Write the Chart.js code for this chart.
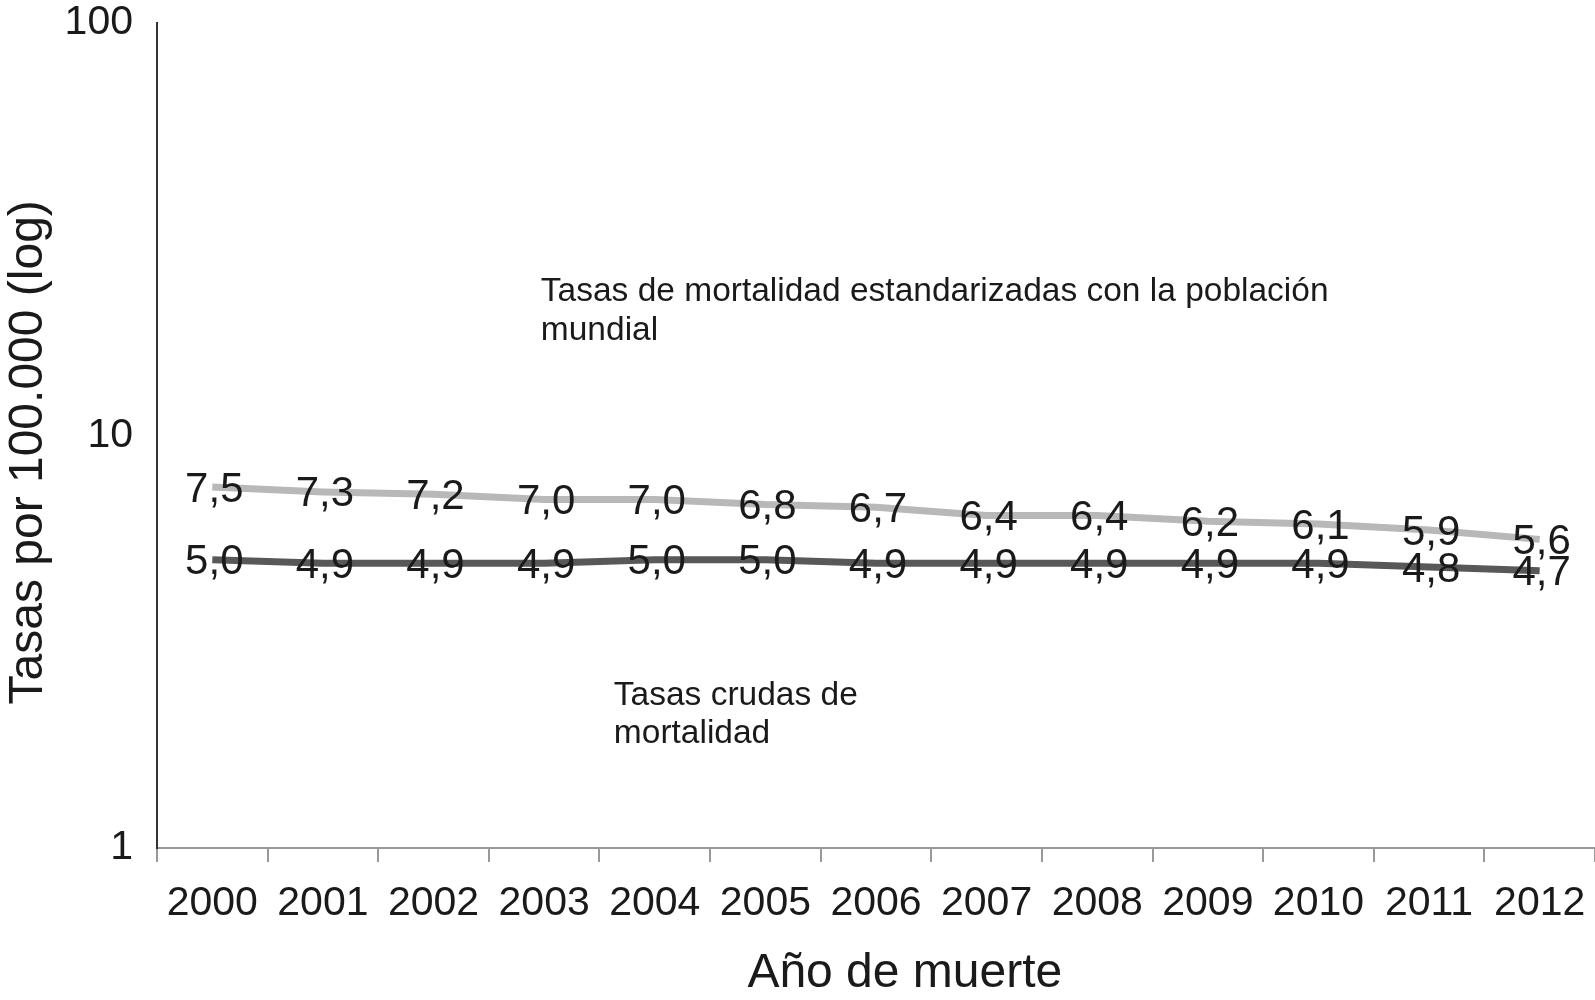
<!DOCTYPE html>
<html>
<head>
<meta charset="utf-8">
<script src="https://cdn.jsdelivr.net/npm/chart.js@4.4.1/dist/chart.umd.min.js"></script>
<style>
  html, body { margin: 0; padding: 0; background: #fff; }
  #wrap { width: 1595px; height: 1000px; }
</style>
</head>
<body>
<div id="wrap"><canvas id="chart" width="1595" height="1000"></canvas></div>
<script>
// data
const years = ['2000','2001','2002','2003','2004','2005','2006','2007','2008','2009','2010','2011','2012'];
const standardized = [7.5, 7.3, 7.2, 7.0, 7.0, 6.8, 6.7, 6.4, 6.4, 6.2, 6.1, 5.9, 5.6];
const crude = [5.0, 4.9, 4.9, 4.9, 5.0, 5.0, 4.9, 4.9, 4.9, 4.9, 4.9, 4.8, 4.7];
const yTicks = [1, 10, 100];

const FONT = '"Liberation Sans", Arial, sans-serif';

// annotation text, anchored in data units (category index, log value)
const notes = [
  { x: 2.97, y: 22.3, text: 'Tasas de mortalidad estandarizadas con la población' },
  { x: 2.97, y: 17.9, text: 'mundial' },
  { x: 3.63, y: 2.34, text: 'Tasas crudas de' },
  { x: 3.63, y: 1.89, text: 'mortalidad' }
];

// draws value labels centred on each point plus the series notes
const labelPlugin = {
  id: 'labels',
  afterDatasetsDraw(chart) {
    const ctx = chart.ctx;
    ctx.save();
    ctx.fillStyle = '#1a1a1a';
    ctx.font = '42px ' + FONT;
    ctx.textAlign = 'center';
    ctx.textBaseline = 'middle';
    chart.data.datasets.forEach((ds, i) => {
      chart.getDatasetMeta(i).data.forEach((pt, j) => {
        ctx.fillText(ds.data[j].toFixed(1).replace('.', ','), pt.x + 2, pt.y + 3);
      });
    });
    const xs = chart.scales.x, ys = chart.scales.y;
    ctx.font = '33.5px ' + FONT;
    ctx.textAlign = 'left';
    notes.forEach(n => {
      ctx.fillText(n.text, xs.getPixelForValue(n.x), ys.getPixelForValue(n.y));
    });
    ctx.restore();
  }
};

new Chart(document.getElementById('chart'), {
  type: 'line',
  data: {
    labels: years,
    datasets: [
      { label: 'Tasas estandarizadas', data: standardized, borderColor: '#b8b8b8', borderWidth: 7, pointRadius: 0, tension: 0 },
      { label: 'Tasas crudas', data: crude, borderColor: '#585858', borderWidth: 7, pointRadius: 0, tension: 0 }
    ]
  },
  options: {
    responsive: false,
    animation: false,
    layout: { autoPadding: false, padding: { top: 0, right: 0, left: 0, bottom: 0 } },
    plugins: { legend: { display: false }, tooltip: { enabled: false } },
    scales: {
      x: {
        offset: true,
        afterFit(scale) { scale.height = 152; scale.paddingRight = 0; },
        grid: { display: true, offset: true, drawOnChartArea: false, drawTicks: true, tickLength: 14, color: '#999', lineWidth: 2 },
        border: { display: true, color: '#999', width: 2 },
        ticks: { color: '#1a1a1a', font: { family: FONT, size: 41 }, padding: 17, maxRotation: 0, autoSkip: false },
        // leading spaces nudge the title a little right of centre, as in the original
        title: { display: true, text: '\u2002\u2002\u2009Año de muerte', color: '#1a1a1a', font: { family: FONT, size: 48, lineHeight: 1.1 }, padding: { top: 10, bottom: 0 } }
      },
      y: {
        type: 'logarithmic',
        min: 1,
        max: 100,
        afterBuildTicks(scale) { scale.ticks = yTicks.map(v => ({ value: v })); },
        afterFit(scale) { scale.width = 157; scale.paddingTop = 23; scale.paddingBottom = 0; },
        grid: { display: false, drawTicks: false, tickLength: 0 },
        border: { display: true, color: '#333', width: 2 },
        ticks: { color: '#1a1a1a', font: { family: FONT, size: 41 }, padding: 24, callback: v => String(v) },
        title: { display: true, text: 'Tasas por 100.000 (log)\u2002\u2009', color: '#1a1a1a', font: { family: FONT, size: 48 }, padding: { top: 0, bottom: 0 } }
      }
    }
  },
  plugins: [labelPlugin]
});
</script>
</body>
</html>
